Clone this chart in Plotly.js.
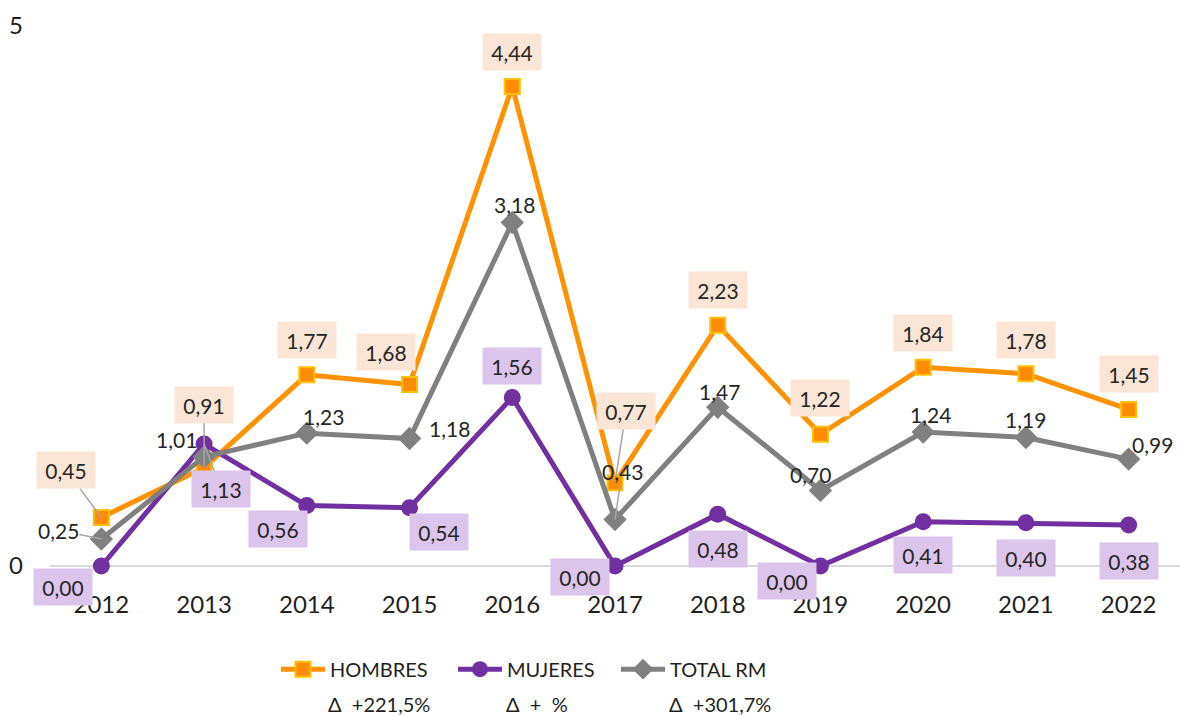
<!DOCTYPE html>
<html>
<head>
<meta charset="utf-8">
<script src="https://cdn.plot.ly/plotly-3.0.1.min.js"></script>
<style>
  html, body { margin: 0; padding: 0; background: #ffffff; }
  #chart { width: 1180px; height: 716px; }
</style>
</head>
<body>
<div id="chart"></div>
<script>
// ---- data ----
const years = ['2012','2013','2014','2015','2016','2017','2018','2019','2020','2021','2022'];
const hombres = [0.45, 0.91, 1.77, 1.68, 4.44, 0.77, 2.23, 1.22, 1.84, 1.78, 1.45];
const mujeres = [0.00, 1.13, 0.56, 0.54, 1.56, 0.00, 0.48, 0.00, 0.41, 0.40, 0.38];
const totalRM = [0.25, 1.01, 1.23, 1.18, 3.18, 0.43, 1.47, 0.70, 1.24, 1.19, 0.99];
const seriesNames = ['HOMBRES', 'MUJERES', 'TOTAL RM'];
const deltaLabels = ['\u0394\u00a0\u00a0+221,5%', '\u0394\u00a0\u00a0+\u00a0\u00a0%', '\u0394\u00a0\u00a0+301,7%'];
const yTicks = [0, 5];

// ---- label placement (pixel offsets from the point, dy positive = down) ----
const hOff = [[-35,-47],[0,-63],[0,-35],[-24,-33],[0,-34],[11,-72],[0,-35],[0,-36],[0,-34],[0,-34],[0,-35]];
const hLead = [true,true,false,false,false,true,false,false,false,false,false];
const mOff = [[-38,21],[17,45],[-29,23],[29,24],[0,-32],[-35,11],[0,35],[-33,15],[0,33],[0,35],[0,36]];
const mLead = [false,true,false,false,false,false,false,false,false,false,false];
const tOff = [[-43,-9],[-28,-17],[17,-17],[40,-10],[2,-18],[7,-48],[2,-16],[-10,-16],[7,-18],[0,-18],[24,-15]];
const tLead = [true,false,false,false,false,true,false,false,false,false,false];

const FONT = 'Lato, "Open Sans", sans-serif';
const fmt = v => v.toFixed(2).replace('.', ',');

function labels(vals, offs, leads, bg) {
  return vals.map((v, i) => {
    const a = {
      x: i, y: v, xref: 'x', yref: 'y',
      text: fmt(v),
      font: {family: FONT, size: 21, color: '#262626'},
      bgcolor: bg || 'rgba(0,0,0,0)',
      borderpad: 0,
      xanchor: 'center', yanchor: 'middle'
    };
    if (bg) { a.width = 58; a.height = 36; }
    if (leads[i]) {
      a.showarrow = true;
      a.ax = offs[i][0]; a.ay = offs[i][1];
      a.arrowhead = 0; a.arrowwidth = 1.5; a.arrowcolor = '#a6a6a6';
      a.standoff = 0;
    } else {
      a.showarrow = false;
      a.xshift = offs[i][0]; a.yshift = -offs[i][1];
    }
    return a;
  });
}

const traces = [
  {
    x: years, y: hombres, name: seriesNames[0], type: 'scatter', mode: 'lines+markers',
    line: {color: '#ff9200', width: 5},
    marker: {symbol: 'square', size: 15, color: '#ff8c00', line: {color: '#ffc000', width: 2}},
    cliponaxis: false, legendwidth: 118
  },
  {
    x: years, y: mujeres, name: seriesNames[1], type: 'scatter', mode: 'lines+markers',
    line: {color: '#7030a0', width: 5},
    marker: {symbol: 'circle', size: 17, color: '#7030a0'},
    cliponaxis: false, legendwidth: 104
  },
  {
    x: years, y: totalRM, name: seriesNames[2], type: 'scatter', mode: 'lines+markers',
    line: {color: '#808080', width: 5},
    marker: {symbol: 'diamond', size: 18, color: '#808080'},
    cliponaxis: false, legendwidth: 110
  }
];

const deltaX = [0.291, 0.431, 0.593];
const deltaAnn = deltaLabels.map((t, i) => ({
  xref: 'paper', yref: 'paper', x: deltaX[i], y: -0.256,
  text: t, showarrow: false, xanchor: 'center', yanchor: 'middle',
  font: {family: FONT, size: 20, color: '#1f1f1f'}
}));

const annotations = []
  .concat(labels(hombres, hOff, hLead, '#fbe5d6'))
  .concat(labels(mujeres, mOff, mLead, '#dcc5eb'))
  .concat(labels(totalRM, tOff, tLead, null))
  .concat(deltaAnn);

const layout = {
  width: 1180, height: 716,
  margin: {l: 50, r: 0, t: 26, b: 150},
  paper_bgcolor: '#ffffff', plot_bgcolor: '#ffffff',
  font: {family: FONT, color: '#1f1f1f'},
  showlegend: true,
  legend: {
    orientation: 'h', x: 0.2, xanchor: 'left', y: -0.155, yanchor: 'top',
    font: {family: FONT, size: 20, color: '#1f1f1f'},
    itemwidth: 44
  },
  xaxis: {
    type: 'category', range: [-0.5, 10.5], showgrid: false, zeroline: false,
    showline: false, ticks: '', ticklabelstandoff: 22,
    tickfont: {family: FONT, size: 24, color: '#1f1f1f'}, fixedrange: true
  },
  yaxis: {
    range: [0, 5], tickvals: yTicks, ticktext: yTicks.map(String),
    showgrid: false, zeroline: true, zerolinecolor: '#d9d9d9', zerolinewidth: 2,
    showline: false, ticks: '', ticklabelstandoff: 26,
    tickfont: {family: FONT, size: 24, color: '#1f1f1f'}, fixedrange: true
  },
  annotations: annotations
};

Plotly.newPlot('chart', traces, layout, {displayModeBar: false, staticPlot: true});
</script>
</body>
</html>
